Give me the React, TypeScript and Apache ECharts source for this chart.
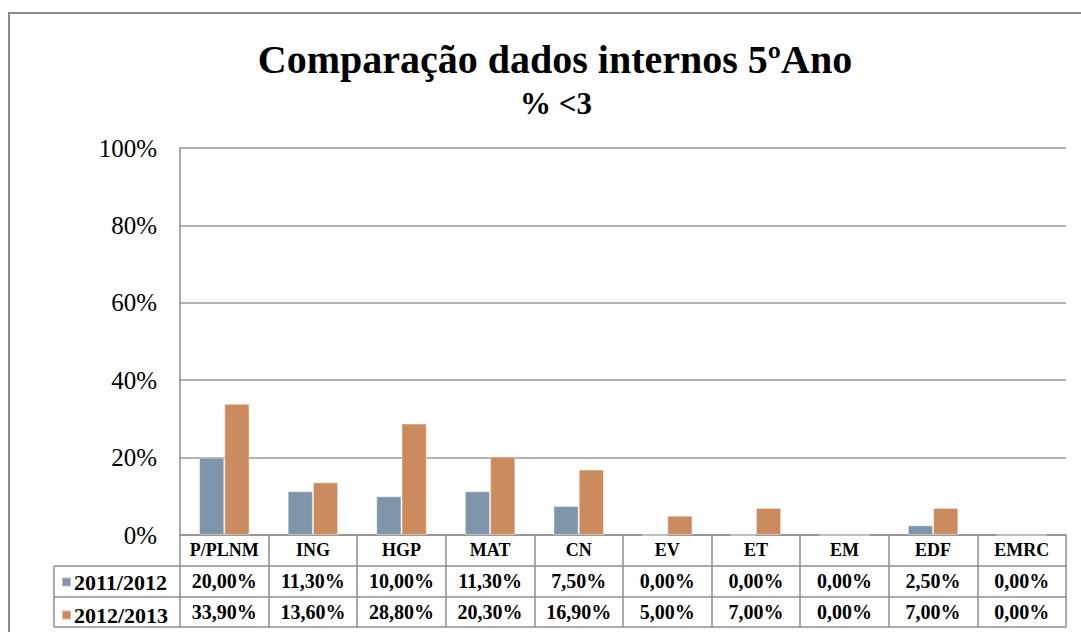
import React, { useEffect, useRef } from "react";
import * as echarts from "echarts";

const categories = ["P/PLNM", "ING", "HGP", "MAT", "CN", "EV", "ET", "EM", "EDF", "EMRC"];
const seriesNames = ["2011/2012", "2012/2013"];
const values2011 = [20.0, 11.3, 10.0, 11.3, 7.5, 0.0, 0.0, 0.0, 2.5, 0.0];
const values2012 = [33.9, 13.6, 28.8, 20.3, 16.9, 5.0, 7.0, 0.0, 7.0, 0.0];
const yTicks = [0, 20, 40, 60, 80, 100];
const colors = ["#7f95aa", "#cc8b5e"];

const FONT = "Liberation Serif";
const LINE = "#8c8c8c";

const fmt = (v: number) => v.toFixed(2).replace(".", ",") + "%";

export default function App() {
  const ref = useRef<HTMLDivElement>(null);
  useEffect(() => {
    if (!ref.current) return;
    const chart = echarts.init(ref.current, undefined, { renderer: "svg" });
    const gridLeft = 180;
    const gridRight = 1066;
    const gridTop = 148;
    const gridBottom = 535;
    const rowH = 31;
    const legendLeft = 54;

    const baseXAxis = {
      type: "category" as const,
      data: categories,
      position: "bottom" as const,
      boundaryGap: true,
      axisTick: { show: false },
      splitLine: { show: false },
      axisLine: { show: true, lineStyle: { color: LINE, width: 1.5 } },
    };

    const valueLabel = {
      interval: 0,
      margin: 15,
      verticalAlign: "middle",
      fontFamily: FONT,
      fontWeight: "bold",
      fontSize: 20,
      color: "#000",
    };

    const option: any = {
      animation: false,
      backgroundColor: "#ffffff",
      title: [
        {
          text: "Comparação dados internos 5ºAno",
          left: 550,
          top: 34,
          textAlign: "center",
          textStyle: { fontFamily: FONT, fontWeight: "bold", fontSize: 40, color: "#000", lineHeight: 40 },
        },
        {
          text: "% <3",
          left: 551,
          top: 83,
          textAlign: "center",
          textStyle: { fontFamily: FONT, fontWeight: "bold", fontSize: 31, color: "#000", lineHeight: 31 },
        },
      ],
      legend: {
        orient: "vertical",
        left: 61,
        top: 571,
        height: 60,
        padding: 0,
        itemWidth: 9,
        itemHeight: 9,
        itemGap: 11,
        icon: "rect",
        data: seriesNames,
        textStyle: { fontFamily: FONT, fontWeight: "bold", fontSize: 22, color: "#000", lineHeight: 20, padding: [0, 0, 0, -2] },
        selectedMode: false,
      },
      grid: {
        left: gridLeft,
        right: 1081 - gridRight,
        top: gridTop,
        bottom: 632 - gridBottom,
        containLabel: false,
      },
      xAxis: [
        {
          ...baseXAxis,
          axisTick: {
            show: true,
            interval: 0,
            alignWithLabel: false,
            length: rowH * 3 - 1,
            lineStyle: { color: LINE, width: 1.5 },
          },
          axisLabel: { ...valueLabel, fontSize: 18 },
        },
        {
          ...baseXAxis,
          offset: rowH,
          axisLabel: { ...valueLabel, formatter: (_v: string, i: number) => fmt(values2011[i]) },
        },
        {
          ...baseXAxis,
          offset: rowH * 2,
          axisLabel: { ...valueLabel, formatter: (_v: string, i: number) => fmt(values2012[i]) },
        },
        {
          ...baseXAxis,
          offset: rowH * 3 - 1,
          axisLabel: { show: false },
        },
      ],
      yAxis: {
        type: "value",
        min: 0,
        max: 100,
        interval: 20,
        axisLine: { show: true, lineStyle: { color: LINE, width: 1.5 } },
        axisTick: { show: false },
        splitLine: { show: true, lineStyle: { color: "#9a9a9a", width: 1.5 } },
        axisLabel: {
          margin: 23,
          fontFamily: FONT,
          fontWeight: "normal",
          fontSize: 25,
          color: "#000",
          formatter: (v: number) => (yTicks.includes(v) ? v + "%" : ""),
        },
      },
      series: [
        {
          name: seriesNames[0],
          type: "bar",
          xAxisIndex: 0,
          data: values2011,
          barGap: "0%",
          barCategoryGap: "43%",
          itemStyle: { color: colors[0], borderColor: "rgba(255,255,255,0.45)", borderWidth: 1 },
        },
        {
          name: seriesNames[1],
          type: "bar",
          xAxisIndex: 0,
          data: values2012,
          barGap: "0%",
          barCategoryGap: "43%",
          itemStyle: { color: colors[1], borderColor: "rgba(255,255,255,0.45)", borderWidth: 1 },
        },
      ],
      graphic: [
        {
          type: "rect",
          shape: { x: 9, y: 13, width: 1200, height: 800 },
          style: { fill: "none", stroke: "#8c8c8c", lineWidth: 2 },
          silent: true,
        },
        {
          type: "line",
          shape: { x1: legendLeft, y1: gridBottom + rowH, x2: gridLeft, y2: gridBottom + rowH },
          style: { stroke: LINE, lineWidth: 1.5 },
        },
        {
          type: "line",
          shape: { x1: legendLeft, y1: gridBottom + rowH * 2, x2: gridLeft, y2: gridBottom + rowH * 2 },
          style: { stroke: LINE, lineWidth: 1.5 },
        },
        {
          type: "line",
          shape: { x1: legendLeft, y1: gridBottom + rowH * 3 - 1, x2: gridLeft, y2: gridBottom + rowH * 3 - 1 },
          style: { stroke: LINE, lineWidth: 1.5 },
        },
        {
          type: "line",
          shape: { x1: legendLeft, y1: gridBottom + rowH, x2: legendLeft, y2: gridBottom + rowH * 3 - 1 },
          style: { stroke: LINE, lineWidth: 1.5 },
        },
      ],
    };
    chart.setOption(option);
    return () => chart.dispose();
  }, []);
  return (
    <div
      ref={ref}
      style={{ position: "fixed", left: 0, top: 0, width: 1081, height: 632, background: "#fff" }}
    />
  );
}
